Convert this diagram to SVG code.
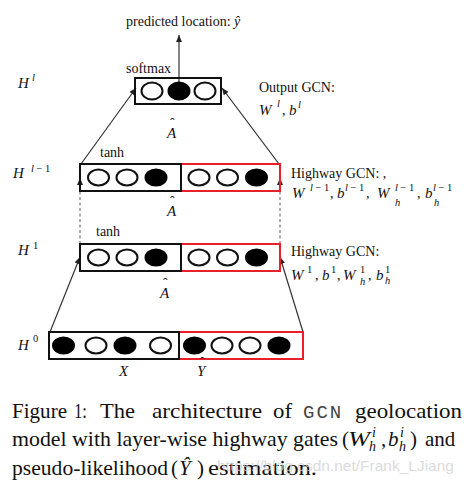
<svg xmlns="http://www.w3.org/2000/svg" width="467" height="484" viewBox="0 0 467 484">
<defs>
<marker id="arr" markerUnits="userSpaceOnUse" markerWidth="7" markerHeight="6" refX="7" refY="3" orient="auto">
<path d="M0,0 L7,3 L0,6 z" fill="#222"/>
</marker>
<style>
text{font-family:"Liberation Serif","Times New Roman",serif;fill:#111;}
.lb{font-size:14px;}
.m{font-style:italic;font-size:15px;}
.ms{font-style:italic;font-size:10.5px;}
.r{font-size:10.5px;}
.cap{font-size:21px;}
.ci{font-size:21px;font-style:italic;}
.cs{font-size:14px;font-style:italic;}
.mono{font-family:"Liberation Mono","Courier New",monospace;font-size:19px;fill:#444;}
.bk{fill:none;stroke:#111;stroke-width:2;}
.rd{fill:none;stroke:#e8202a;stroke-width:2;}
.o{fill:#fff;stroke:#111;stroke-width:2;}
.f{fill:#000;stroke:#000;stroke-width:2;}
.ln{stroke:#333;stroke-width:1.2;fill:none;}
.ds{stroke:#777;stroke-width:1.2;stroke-dasharray:3,2.5;fill:none;}
</style>
</defs>

<g id="connectors">
<line class="ln" x1="179" y1="82" x2="179" y2="35" marker-end="url(#arr)"/>
<line class="ln" x1="81" y1="164" x2="136" y2="88" marker-end="url(#arr)"/>
<line class="ln" x1="279" y1="164" x2="222" y2="88" marker-end="url(#arr)"/>
<line class="ds" x1="80" y1="244" x2="80" y2="178" marker-end="url(#arr)"/>
<line class="ds" x1="280" y1="244" x2="280" y2="178" marker-end="url(#arr)"/>
<line class="ln" x1="50" y1="332" x2="80" y2="257" marker-end="url(#arr)"/>
<line class="ln" x1="303" y1="332" x2="280" y2="257" marker-end="url(#arr)"/>
</g>

<g id="output-layer">
<rect class="bk" x="135" y="78" width="86" height="26"/>
<ellipse class="o" cx="152" cy="91" rx="10.5" ry="8.5"/>
<ellipse class="f" cx="179" cy="91" rx="10.5" ry="8.5"/>
<ellipse class="o" cx="205" cy="91" rx="10.5" ry="8.5"/>
<text class="lb" x="126" y="73">softmax</text>
<text class="lb" x="126" y="26">predicted location: <tspan font-style="italic">ŷ</tspan></text>
<text class="m" x="18" y="88">H</text><text class="ms" x="32" y="81">l</text>
<text class="lb" x="259" y="92">Output GCN:</text>
<text class="m" x="259" y="115">W</text><text class="ms" x="277" y="107">l</text><text class="lb" x="282" y="115">,</text>
<text class="m" x="289" y="115">b</text><text class="ms" x="298" y="108">l</text>
</g>

<g id="a-hat-top">
<text class="m" x="167" y="138">A</text><text class="lb" x="170" y="128">ˆ</text>
</g>

<g id="highway-layer-l-1">
<rect class="rd" x="181" y="164" width="99" height="27"/>
<rect class="bk" x="80" y="164" width="101" height="27"/>
<ellipse class="o" cx="98.5" cy="177.5" rx="10.5" ry="8"/>
<ellipse class="o" cx="127" cy="177.5" rx="10.5" ry="8"/>
<ellipse class="f" cx="156" cy="177.5" rx="10.5" ry="8"/>
<ellipse class="o" cx="199" cy="177.5" rx="10.5" ry="8"/>
<ellipse class="o" cx="227.5" cy="177.5" rx="10.5" ry="8"/>
<ellipse class="f" cx="256.5" cy="177.5" rx="10.5" ry="8"/>
<text class="lb" x="100" y="157">tanh</text>
<text class="m" x="13" y="178">H</text><text class="ms" x="31" y="172">l<tspan font-style="normal"> − 1</tspan></text>
<text class="lb" x="291" y="178">Highway GCN: ,</text>
<text class="m" x="292" y="198">W</text><text class="ms" x="310" y="191">l<tspan font-style="normal"> − 1</tspan></text><text class="lb" x="330" y="198">,</text>
<text class="m" x="337" y="198">b</text><text class="ms" x="345" y="191">l<tspan font-style="normal"> − 1</tspan></text><text class="lb" x="366" y="198">,</text>
<text class="m" x="377" y="198">W</text><text class="ms" x="395" y="191">l<tspan font-style="normal"> − 1</tspan></text><text class="ms" x="395" y="206">h</text><text class="lb" x="417" y="198">,</text>
<text class="m" x="425" y="198">b</text><text class="ms" x="433" y="191">l<tspan font-style="normal"> − 1</tspan></text><text class="ms" x="434" y="206">h</text>
</g>

<g id="a-hat-mid">
<text class="m" x="167" y="216">A</text><text class="lb" x="170" y="206">ˆ</text>
</g>

<g id="highway-layer-1">
<rect class="rd" x="181" y="244" width="99" height="27"/>
<rect class="bk" x="80" y="244" width="101" height="27"/>
<ellipse class="o" cx="98.5" cy="257.5" rx="10.5" ry="8"/>
<ellipse class="o" cx="127" cy="257.5" rx="10.5" ry="8"/>
<ellipse class="f" cx="156" cy="257.5" rx="10.5" ry="8"/>
<ellipse class="o" cx="199" cy="257.5" rx="10.5" ry="8"/>
<ellipse class="o" cx="227.5" cy="257.5" rx="10.5" ry="8"/>
<ellipse class="f" cx="256.5" cy="257.5" rx="10.5" ry="8"/>
<text class="lb" x="96" y="236">tanh</text>
<text class="m" x="18" y="255">H</text><text class="r" x="33" y="249">1</text>
<text class="lb" x="291" y="256">Highway GCN:</text>
<text class="m" x="291" y="280">W</text><text class="r" x="307" y="273">1</text><text class="lb" x="315" y="280">,</text>
<text class="m" x="322" y="280">b</text><text class="r" x="331" y="273">1</text><text class="lb" x="337" y="280">,</text>
<text class="m" x="343" y="280">W</text><text class="r" x="360" y="273">1</text><text class="ms" x="360" y="285">h</text><text class="lb" x="368" y="280">,</text>
<text class="m" x="376" y="280">b</text><text class="r" x="385" y="273">1</text><text class="ms" x="385" y="284">h</text>
</g>

<g id="a-hat-low">
<text class="m" x="160" y="298">A</text><text class="lb" x="163" y="288">ˆ</text>
</g>

<g id="input-layer">
<rect class="rd" x="179" y="332" width="124" height="27"/>
<rect class="bk" x="49" y="332" width="130" height="27"/>
<ellipse class="f" cx="63.5" cy="345.5" rx="10.5" ry="8"/>
<ellipse class="o" cx="96" cy="345.5" rx="10.5" ry="8"/>
<ellipse class="f" cx="125" cy="345.5" rx="10.5" ry="8"/>
<ellipse class="o" cx="160.5" cy="345.5" rx="10.5" ry="8"/>
<ellipse class="f" cx="194.5" cy="345.5" rx="10.5" ry="8"/>
<ellipse class="o" cx="222" cy="345.5" rx="10.5" ry="8"/>
<ellipse class="o" cx="250" cy="345.5" rx="10.5" ry="8"/>
<ellipse class="f" cx="279" cy="345.5" rx="10.5" ry="8"/>
<text class="m" x="18" y="350">H</text><text class="r" x="33" y="342">0</text>
<text class="m" x="119" y="376">X</text>
<text class="m" x="197" y="376">Y</text><text class="lb" x="200" y="367">ˆ</text>
</g>

<g id="caption">
<text class="cap" x="12" y="418" textLength="55" lengthAdjust="spacingAndGlyphs">Figure</text>
<text class="cap" x="74" y="418" textLength="13" lengthAdjust="spacingAndGlyphs">1:</text>
<text class="cap" x="100" y="418" textLength="35" lengthAdjust="spacingAndGlyphs">The</text>
<text class="cap" x="152" y="418" textLength="110" lengthAdjust="spacingAndGlyphs">architecture</text>
<text class="cap" x="273" y="418" textLength="19" lengthAdjust="spacingAndGlyphs">of</text>
<text class="mono" x="303" y="418" letter-spacing="2">GCN</text>
<text class="cap" x="355" y="418" textLength="107" lengthAdjust="spacingAndGlyphs">geolocation</text>
<text class="cap" x="12" y="446" textLength="326" lengthAdjust="spacingAndGlyphs">model with layer-wise highway gates</text>
<text class="cap" x="342" y="446">(</text>
<text class="ci" x="348" y="446" textLength="22" lengthAdjust="spacingAndGlyphs">W</text>
<text class="cs" x="372" y="437">i</text>
<text class="cs" x="369" y="451">h</text>
<text class="cap" x="381" y="446">,</text>
<text class="ci" x="388" y="446">b</text>
<text class="cs" x="400" y="437">i</text>
<text class="cs" x="399" y="451">h</text>
<text class="cap" x="410" y="446">)</text>
<text class="cap" x="425" y="446">and</text>
<text class="cap" x="12" y="475" textLength="156" lengthAdjust="spacingAndGlyphs">pseudo-likelihood</text>
<text class="cap" x="171" y="475">(</text>
<text class="ci" x="179" y="475">Ŷ</text>
<text class="cap" x="197" y="475">)</text>
<text class="cap" x="208" y="475" textLength="109" lengthAdjust="spacingAndGlyphs">estimation.</text>
<text x="217" y="471" font-size="15.5" style="fill:#cfcfcf;fill-opacity:0.75;font-family:'Liberation Sans',Arial,sans-serif">https://blog.csdn.net/Frank_LJiang</text>
</g>
</svg>
